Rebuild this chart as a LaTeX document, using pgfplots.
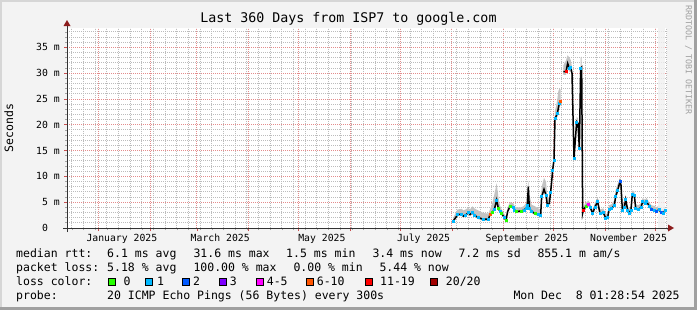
\documentclass[border=0pt]{standalone}
\usepackage{pgfplots}
\pgfplotsset{compat=1.18}
\usepgfplotslibrary{fillbetween}
\usepackage{pgfplotstable}
\usepackage{fontspec}
\setmainfont{DejaVu Sans Mono}
\setmonofont{DejaVu Sans Mono}
\definecolor{bg}{RGB}{243,243,243}
\pagecolor{bg}
\definecolor{shadea}{RGB}{214,214,214}
\definecolor{shadeb}{RGB}{160,160,160}
\definecolor{mgrid}{RGB}{228,140,140}
\definecolor{mgridtick}{RGB}{200,80,80}
\definecolor{gridc}{RGB}{188,188,188}
\definecolor{axiscol}{RGB}{50,50,50}
\definecolor{arrowcol}{RGB}{140,28,28}
\definecolor{wmark}{RGB}{160,160,160}
\definecolor{smoke}{RGB}{195,195,195}
\definecolor{lA}{HTML}{26FF00}
\definecolor{lB}{HTML}{00B8FF}
\definecolor{lC}{HTML}{0059FF}
\definecolor{lD}{HTML}{7E00FF}
\definecolor{lE}{HTML}{FF00FF}
\definecolor{lF}{HTML}{FF5500}
\definecolor{lG}{HTML}{FF0000}
\definecolor{lH}{HTML}{A10000}
\newcommand{\lfont}{\fontsize{11.5bp}{14bp}\selectfont}
\newcommand{\tfont}{\fontsize{9.8bp}{11bp}\selectfont}

% days since 13 Dec 2024 01:28, median rtt in ms, loss class
\pgfplotstableread{
x y c
231.8 1.4 b
233.2 2.0 n
234.4 2.6 b
236.8 2.7 b
237.8 2.3 n
239.2 2.5 b
240.8 3.0 b
241.8 2.6 n
243.2 3.0 b
244.4 2.5 b
246.8 2.0 b
249.8 1.7 b
252.8 1.7 b
253.8 2.6 f
255.2 3.0 a
256.4 3.6 b
257.8 5.4 b
258.8 3.8 a
259.8 3.2 b
260.8 2.8 a
262.4 2.0 b
263.4 1.5 a
264.4 3.2 n
265.8 4.2 a
267.8 4.1 b
268.6 3.5 b
269.8 3.2 a
272.8 3.3 a
274.2 3.5 b
275.4 3.8 b
276.2 4.4 b
276.8 8.0 n
277.4 3.8 b
278.8 3.2 b
280.8 2.8 a
282.8 2.6 b
284.2 2.5 b
284.8 6.1 b
286.2 7.5 n
287.4 6.4 b
288.2 4.4 b
289.4 4.8 n
290.2 7.0 b
290.8 9.0 n
291.4 11.2 b
292.2 13.2 b
292.8 21.3 b
293.4 21.6 n
294.2 22.2 b
294.8 23.2 n
295.4 24.2 b
296.2 24.5 f
297.0 nan n
297.8 30.3 n
299.4 30.3 g
300.4 31.9 n
301.4 31.0 b
302.2 31.1 b
303.0 30.0 n
304.2 13.5 b
305.8 20.6 b
306.6 20.3 n
307.4 15.4 b
308.2 31.0 b
308.8 31.2 n
309.4 2.9 n
309.8 3.5 g
311.4 4.2 a
312.8 4.6 e
313.8 4.1 b
315.4 2.8 b
316.8 4.1 b
318.4 5.1 b
319.8 2.8 b
321.8 3.0 b
323.2 1.9 b
324.4 2.0 b
325.2 3.6 b
326.8 3.8 b
328.4 4.4 b
329.2 6.1 b
330.4 7.3 b
331.8 9.0 c
332.4 8.3 n
333.2 3.5 b
334.4 4.1 b
335.2 5.5 b
336.4 3.5 b
337.2 2.8 b
338.4 3.5 b
339.2 6.6 b
340.4 6.4 b
341.2 3.8 b
342.8 3.6 b
344.4 4.0 b
345.4 5.1 b
346.8 4.8 b
347.8 5.1 b
349.2 4.3 b
350.8 3.6 c
352.4 3.5 b
353.8 3.2 c
355.2 3.6 b
356.4 3.0 c
357.8 2.8 b
358.8 3.5 b
}\median

\pgfplotstableread{
x lo hi
231.8 1.1 2.0
233.2 1.7 2.9
234.4 2.3 3.6
236.8 2.4 3.7
237.8 2.0 3.4
239.2 2.2 3.6
240.8 2.7 3.9
241.8 2.3 3.6
243.2 2.7 4.2
244.4 2.2 3.8
246.8 1.7 3.4
249.8 1.4 2.9
252.8 1.4 2.8
253.8 2.3 3.6
255.2 2.7 4.8
256.4 3.3 6.5
257.8 4.8 8.7
258.8 3.4 6.0
259.8 2.9 4.3
260.8 2.5 3.6
262.4 1.7 2.7
263.4 1.2 2.3
264.4 2.9 4.0
265.8 3.9 5.0
267.8 3.8 4.8
268.6 3.2 4.2
269.8 2.9 4.0
272.8 3.0 4.0
274.2 3.2 4.3
275.4 3.5 4.8
276.2 4.0 7.0
276.8 7.0 9.2
277.4 3.5 6.5
278.8 2.9 4.5
280.8 2.5 4.2
282.8 2.3 3.8
284.2 2.2 3.6
284.8 5.6 8.0
286.2 6.9 9.7
287.4 5.9 9.0
288.2 4.0 5.8
289.4 4.4 6.0
290.2 6.6 8.2
290.8 8.6 10.2
291.4 10.8 12.4
292.2 12.8 14.2
292.8 20.8 22.8
293.4 21.0 23.5
294.2 21.5 25.0
294.8 22.4 26.5
295.4 23.4 27.0
296.2 23.8 26.8
}\smokeA

\pgfplotstableread{
x lo hi
297.8 29.7 31.5
299.4 29.7 32.5
300.4 31.0 33.5
301.4 30.3 33.0
302.2 30.3 32.6
303.0 29.5 31.2
304.2 13.0 14.5
305.8 20.0 21.6
306.6 19.7 21.2
307.4 15.0 16.4
308.2 30.3 33.0
308.8 30.5 33.2
309.4 2.6 3.6
309.8 3.2 4.2
311.4 3.9 4.9
312.8 4.3 5.3
313.8 3.8 4.8
315.4 2.5 3.5
316.8 3.8 4.9
318.4 4.8 5.9
319.8 2.5 3.6
321.8 2.7 3.8
323.2 1.6 2.7
324.4 1.7 2.8
325.2 3.3 4.4
326.8 3.5 4.6
328.4 4.1 5.4
329.2 5.7 7.4
330.4 6.9 8.5
331.8 8.5 9.6
332.4 7.8 9.0
333.2 3.2 4.6
334.4 3.8 5.0
335.2 5.1 6.4
336.4 3.2 4.3
337.2 2.5 3.6
338.4 3.2 4.4
339.2 6.2 7.3
340.4 6.0 7.1
341.2 3.5 4.6
342.8 3.3 4.4
344.4 3.7 4.8
345.4 4.8 5.8
346.8 4.5 5.5
347.8 4.8 5.8
349.2 4.0 5.0
350.8 3.3 4.4
352.4 3.2 4.3
353.8 2.9 4.0
355.2 3.3 4.4
356.4 2.7 3.8
357.8 2.5 3.6
358.8 3.2 4.2
}\smokeB

\begin{document}
\begin{tikzpicture}
% 3D border
\fill[shadea] (0,0) rectangle (697bp,-2bp);
\fill[shadea] (0,0) rectangle (2bp,-310bp);
\fill[shadeb] (0,-307bp) rectangle (697bp,-310bp);
\fill[shadeb] (694bp,0) rectangle (697bp,-310bp);

\begin{axis}[
  set layers,
  at={(67bp,-228bp)}, anchor=south west,
  width=600bp, height=200bp, scale only axis,
  xmin=0, xmax=360, ymin=0, ymax=38.76,
  axis x line*=bottom, axis y line*=left,
  axis line style={axiscol, line width=1bp},
  axis background/.style={fill=white},
  tick align=outside,
  major tick length=3bp, minor tick length=2bp,
  major tick style={mgridtick, line width=0.8bp},
  minor tick style={gray!70, line width=0.8bp},
  xtick={18.94,49.94,77.94,108.94,138.94,169.94,199.94,230.94,261.94,291.94,322.94,352.94},
  xticklabels={},
  minor xtick={2.94,9.94,...,359},
  extra x ticks={32.94,91.94,152.94,213.94,275.94,336.94},
  extra x tick labels={January 2025,March 2025,May 2025,July 2025,September 2025,November 2025},
  extra x tick style={grid=none, major tick length=0pt,
    xticklabel style={anchor=base, inner sep=0pt, yshift=-13bp, font=\tfont}},
  ytick={0,5,10,15,20,25,30,35},
  yticklabels={0\hphantom{mm},5 m,10 m,15 m,20 m,25 m,30 m,35 m},
  yticklabel style={anchor=east, inner sep=0pt, xshift=-4bp, font=\tfont},
  minor ytick={1,2,3,4,6,7,8,9,11,12,13,14,16,17,18,19,21,22,23,24,26,27,28,29,31,32,33,34,36,37,38},
  grid=both,
  major grid style={mgrid, dash pattern=on 1bp off 1bp, line width=1bp},
  minor grid style={gridc, dash pattern=on 1bp off 1bp, line width=1bp},
  title={Last 360 Days from ISP7 to google.com},
  title style={at={(axis description cs:0.469,1)}, anchor=base, yshift=-0.5bp, inner sep=0pt,
    font=\fontsize{13.3bp}{15bp}\selectfont},
  ylabel={Seconds},
  every axis y label/.style={at={(axis description cs:-0.097,0.5)}, rotate=90, anchor=center,
    font=\lfont},
]
\fill[gray!12, opacity=0.8] (axis cs:354.8,0) rectangle (axis cs:358.8,38.76);
% smoke
\addplot[name path=uA, draw=none] table[x=x, y=hi] {\smokeA};
\addplot[name path=dA, draw=none] table[x=x, y=lo] {\smokeA};
\addplot[fill=smoke, draw=none] fill between[of=uA and dA];
\addplot[name path=uB, draw=none] table[x=x, y=hi] {\smokeB};
\addplot[name path=dB, draw=none] table[x=x, y=lo] {\smokeB};
\addplot[fill=smoke, draw=none] fill between[of=uB and dB];
% median line
\addplot[black, line width=1.5bp, unbounded coords=jump] table[x=x, y=y] {\median};
% loss colour marks
\addplot[only marks, scatter, scatter src=explicit symbolic, mark=square*, mark size=1bp,
  scatter/classes={
    a={mark=square*, draw=lA, fill=lA},
    b={mark=square*, draw=lB, fill=lB},
    c={mark=square*, draw=lC, fill=lC},
    e={mark=square*, draw=lE, fill=lE},
    f={mark=square*, draw=lF, fill=lF},
    g={mark=square*, draw=lG, fill=lG},
    n={mark=none}}]
  table[x=x, y=y, meta=c] {\median};
\end{axis}

% axis lines with arrows
\draw[axiscol, line width=1bp] (63bp,-228bp) -- (668bp,-228bp);
\fill[arrowcol] (668bp,-224.5bp) -- (674bp,-228bp) -- (668bp,-231.5bp) -- cycle;
\draw[axiscol, line width=1bp] (67bp,-232bp) -- (67bp,-26bp);
\fill[arrowcol] (63.5bp,-26bp) -- (67bp,-20bp) -- (70.5bp,-26bp) -- cycle;

% watermark
\node[rotate=-90, anchor=center, inner sep=0pt, text=wmark,
  font=\fontsize{8.3bp}{9bp}\selectfont] at (688.5bp,-60bp) {RRDTOOL / TOBI OETIKER};

% legend / statistics
\begin{scope}[every node/.style={anchor=base west, inner sep=0pt, font=\lfont}]
\node at (16bp,-257.7bp) {median rtt:};
\node at (107bp,-257.7bp) {6.1 ms avg};
\node at (193.3bp,-257.7bp) {31.6 ms max};
\node at (286bp,-257.7bp) {1.5 ms min};
\node at (372.3bp,-257.7bp) {3.4 ms now};
\node at (458.3bp,-257.7bp) {7.2 ms sd};
\node at (537.3bp,-257.7bp) {855.1 m am/s};

\node at (16bp,-271.7bp) {packet loss:};
\node at (107bp,-271.7bp) {5.18 \% avg};
\node at (193.3bp,-271.7bp) {100.00 \% max};
\node at (293.3bp,-271.7bp) {0.00 \% min};
\node at (379.3bp,-271.7bp) {5.44 \% now};

\node at (16bp,-285.7bp) {loss color:};
\node at (123.3bp,-285.7bp) {0};
\node at (157bp,-285.7bp) {1};
\node at (193bp,-285.7bp) {2};
\node at (229.7bp,-285.7bp) {3};
\node at (266.7bp,-285.7bp) {4-5};
\node at (316.7bp,-285.7bp) {6-10};
\node at (380bp,-285.7bp) {11-19};
\node at (445.7bp,-285.7bp) {20/20};

\node at (16bp,-299.5bp) {probe:};
\node at (107bp,-299.5bp) {20 ICMP Echo Pings (56 Bytes) every 300s};
\node at (513.3bp,-299.5bp) {Mon Dec\hphantom{0} 8 01:28:54 2025};
\end{scope}
\foreach \bx/\col in {108.7/lA, 145.7/lB, 182.7/lC, 219.3/lD, 256/lE, 306/lF, 365.7/lG, 430.7/lH}{
  \filldraw[fill=\col, draw=black, line width=0.8bp] (\bx bp,-278.5bp) rectangle ++(7bp,-7bp);
}
\pgfresetboundingbox
\path[use as bounding box] (0,0) rectangle (697bp,-310bp);
\end{tikzpicture}
\end{document}
